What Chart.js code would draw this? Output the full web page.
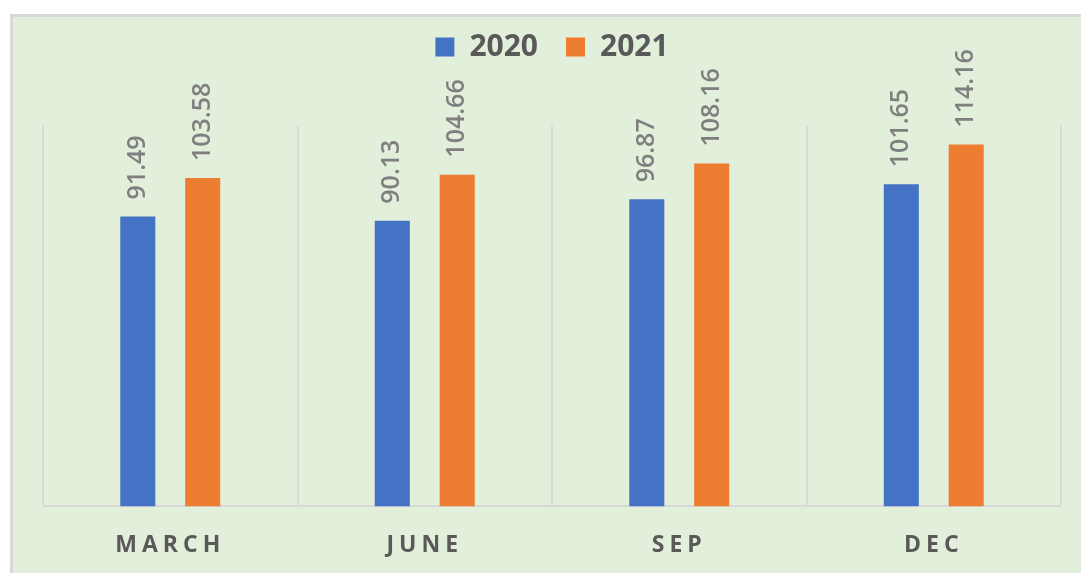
<!DOCTYPE html>
<html>
<head>
<meta charset="utf-8">
<script src="https://cdn.jsdelivr.net/npm/chart.js@4/dist/chart.umd.min.js"></script>
<style>
  html, body { margin: 0; padding: 0; background: #ffffff; width: 1081px; height: 573px; overflow: hidden; }
  #frame { position: absolute; left: 10px; top: 14px; width: 1100px; height: 600px;
           background: #e2efda; border-left: 3px solid #d9d9d9; border-top: 3px solid #d9d9d9; }
  #c { position: absolute; left: 0; top: 0; }
</style>
</head>
<body>
<div id="frame"></div>
<canvas id="c" width="1081" height="573"></canvas>
<script>
const categories = ['MARCH', 'JUNE', 'SEP', 'DEC'];
const seriesNames = ['2020', '2021'];
const values2020 = [91.49, 90.13, 96.87, 101.65];
const values2021 = [103.58, 104.66, 108.16, 114.16];
const yMin = 0;
const yMax = 120;

const legendSpacer = {
  id: 'legendSpacer',
  beforeInit(chart) {
    if (!chart.legend) return;
    const origFit = chart.legend.fit;
    chart.legend.fit = function () {
      origFit.bind(chart.legend)();
      this.height += 54;
    };
  }
};

const valueLabels = {
  id: 'valueLabels',
  afterDatasetsDraw(chart) {
    const ctx = chart.ctx;
    ctx.save();
    ctx.letterSpacing = '0px';
    ctx.font = '600 25px "Open Sans"';
    ctx.fillStyle = '#7f7f7f';
    ctx.textAlign = 'left';
    ctx.textBaseline = 'middle';
    chart.data.datasets.forEach((ds, di) => {
      const meta = chart.getDatasetMeta(di);
      meta.data.forEach((el, i) => {
        ctx.save();
        ctx.translate(el.x, el.y - 17);
        ctx.rotate(-Math.PI / 2);
        ctx.fillText(ds.data[i].toFixed(2), 0, 0);
        ctx.restore();
      });
    });
    ctx.restore();
    ctx.letterSpacing = '5px';
  },
  afterDraw(chart) {
    chart.ctx.letterSpacing = '0px';
  }
};

new Chart(document.getElementById('c'), {
  type: 'bar',
  data: {
    labels: categories,
    datasets: [
      { label: seriesNames[0], data: values2020, backgroundColor: '#4472c4', borderWidth: 0 },
      { label: seriesNames[1], data: values2021, backgroundColor: '#ed7d31', borderWidth: 0 }
    ]
  },
  options: {
    responsive: false,
    animation: false,
    categoryPercentage: 0.51,
    barPercentage: 0.54,
    layout: { padding: { top: 4, left: 43, right: 20, bottom: -11 } },
    plugins: {
      legend: {
        position: 'top',
        align: 'center',
        labels: {
          boxWidth: 19,
          boxHeight: 19,
          padding: 28,
          color: '#595959',
          font: { family: '"Open Sans"', size: 30, weight: 'bold' }
        }
      },
      tooltip: { enabled: false }
    },
    scales: {
      x: {
        grid: { display: true, offset: true, color: '#d9d9d9', lineWidth: 2, drawTicks: false },
        border: { display: true, color: '#d9d9d9', width: 2 },
        ticks: {
          z: 1,
          padding: 25,
          color: '#595959',
          font: { family: '"Open Sans"', size: 23, weight: 'bold' }
        }
      },
      y: {
        display: false,
        min: yMin,
        max: yMax
      }
    }
  },
  plugins: [legendSpacer, valueLabels]
});
</script>
</body>
</html>
